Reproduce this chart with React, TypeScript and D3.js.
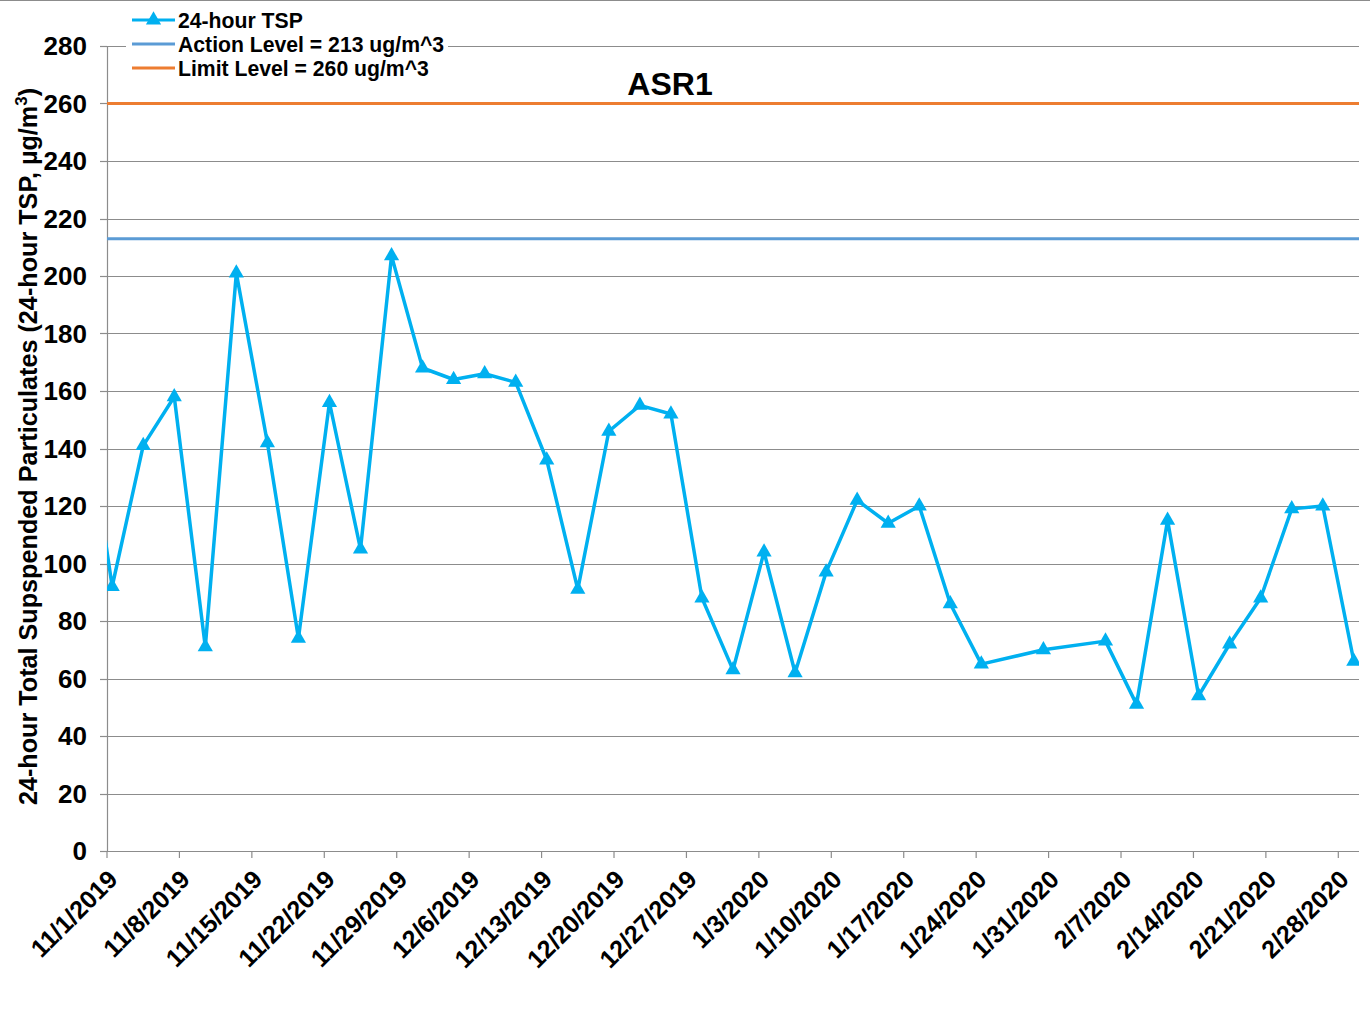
import React from 'react'
import * as d3 from "d3";

// 24-hour TSP readings, every 3 days (first one sits left of the axis and is clipped)
const sampleDates = [
  "10/29/2019",
  "11/1/2019", "11/4/2019", "11/7/2019", "11/10/2019", "11/13/2019", "11/16/2019", "11/19/2019",
  "11/22/2019", "11/25/2019", "11/28/2019", "12/1/2019", "12/4/2019", "12/7/2019", "12/10/2019",
  "12/13/2019", "12/16/2019", "12/19/2019", "12/22/2019", "12/25/2019", "12/28/2019", "12/31/2019",
  "1/3/2020", "1/6/2020", "1/9/2020", "1/12/2020", "1/15/2020", "1/18/2020", "1/21/2020",
  "1/24/2020", "1/30/2020", "2/5/2020", "2/8/2020", "2/11/2020", "2/14/2020", "2/17/2020",
  "2/20/2020", "2/23/2020", "2/26/2020", "2/29/2020",
];
const tspValues = [
  165,
  92, 141, 158, 71, 201, 142, 74,
  156, 105, 207, 168, 164, 166, 163,
  136, 91, 146, 155, 152, 88, 63,
  104, 62, 97, 122, 114, 120, 86,
  65, 70, 73, 51, 115, 54, 72,
  88, 119, 120, 66,
];
const actionLevel = 213;
const limitLevel = 260;
const yTicks = [0, 20, 40, 60, 80, 100, 120, 140, 160, 180, 200, 220, 240, 260, 280];
const axisStart = "11/1/2019";
const axisEnd = "3/1/2020";
const legendLabels = ["24-hour TSP", "Action Level = 213 ug/m^3", "Limit Level = 260 ug/m^3"];

const W = 1370, H = 1013;
const marginLeft = 107, marginRight = 11, marginTop = 46, marginBottom = 162;

const parse = d3.timeParse("%m/%d/%Y");
const fmt = d3.timeFormat("%-m/%-d/%Y");
const font = "'Liberation Sans', Arial, sans-serif";

export default function App() {
  const x = d3.scaleTime()
    .domain([parse(axisStart)!, parse(axisEnd)!])
    .range([marginLeft, W - marginRight]);
  const y = d3.scaleLinear().domain([0, 280]).range([H - marginBottom, marginTop]);

  // Excel date axis: points sit in the middle of their day
  const data = sampleDates.map((d, i) => ({ date: d3.timeHour.offset(parse(d)!, 12), value: tspValues[i] }));
  const xTicks = d3.timeFriday.range(parse(axisStart)!, parse(axisEnd)!);

  const line = d3.line<{ date: Date; value: number }>().x(d => x(d.date)).y(d => y(d.value));
  const tri = d3.symbol(d3.symbolTriangle, 100)();

  const x0 = marginLeft, x1 = W - marginRight, y0 = H - marginBottom;
  const lineColor = "#00B0F0", actionColor = "#5B9BD5", limitColor = "#ED7D31", grid = "#8c8c8c";

  return (
    <svg width={W} height={H} style={{ position: "absolute", left: 0, top: 0, background: "#fff" }} fontFamily={font}>
      <defs>
        <clipPath id="plot"><rect x={x0} y={0} width={x1 - x0} height={H} /></clipPath>
      </defs>
      <line x1={0} x2={W} y1={0.5} y2={0.5} stroke={grid} />

      {/* gridlines + y ticks */}
      {yTicks.map(t => (
        <g key={t}>
          {t > 0 && <line x1={x0} x2={x1} y1={Math.round(y(t)) + 0.5} y2={Math.round(y(t)) + 0.5} stroke={grid} strokeWidth={1.2} />}
          <line x1={x0 - 7} x2={x0} y1={Math.round(y(t)) + 0.5} y2={Math.round(y(t)) + 0.5} stroke={grid} strokeWidth={1.2} />
          <text x={87} y={y(t)} dy="0.36em" textAnchor="end" fontSize={26} fontWeight="bold">{t}</text>
        </g>
      ))}
      <line x1={x0 + 0.5} x2={x0 + 0.5} y1={y(280)} y2={y0} stroke={grid} strokeWidth={1.2} />
      <line x1={x0 - 7} x2={x1} y1={Math.round(y0) + 0.5} y2={Math.round(y0) + 0.5} stroke={grid} strokeWidth={1.2} />

      {/* x ticks */}
      {xTicks.map(t => (
        <g key={+t}>
          <line x1={x(t)} x2={x(t)} y1={y0} y2={y0 + 7} stroke={grid} strokeWidth={1.2} />
          <text transform={`translate(${x(t) + 12},${y0 + 30}) rotate(-45)`} textAnchor="end" fontSize={25} fontWeight="bold">{fmt(t)}</text>
        </g>
      ))}

      {/* reference lines */}
      <line x1={x0} x2={x1} y1={y(actionLevel)} y2={y(actionLevel)} stroke={actionColor} strokeWidth={3} />
      <line x1={x0} x2={x1} y1={y(limitLevel)} y2={y(limitLevel)} stroke={limitColor} strokeWidth={3} />

      {/* series */}
      <g clipPath="url(#plot)">
        <path d={line(data)!} fill="none" stroke={lineColor} strokeWidth={3.5} strokeLinejoin="round" />
        {data.map((d, i) => (
          <path key={i} d={tri} transform={`translate(${x(d.date)},${y(d.value)})`} fill={lineColor} />
        ))}
      </g>

      {/* title */}
      <text x={670} y={95} textAnchor="middle" fontSize={32} fontWeight="bold">ASR1</text>

      {/* y axis title */}
      <text transform={`translate(37,${(85 + 808) / 2}) rotate(-90)`} textAnchor="middle" fontSize={25.2} fontWeight="bold">
        24-hour Total Supspended Particulates (24-hour TSP, µg/m<tspan dy="-10" fontSize={17}>3</tspan><tspan dy="10">)</tspan>
      </text>

      {/* legend */}
      <rect x={126} y={8} width={322} height={72} fill="#fff" />
      {legendLabels.map((l, i) => {
        const ly = 20 + i * 24;
        const c = [lineColor, actionColor, limitColor][i];
        return (
          <g key={l}>
            <line x1={132} x2={175} y1={ly} y2={ly} stroke={c} strokeWidth={3} />
            {i === 0 && <path d={tri} transform={`translate(153.5,${ly})`} fill={c} />}
            <text x={178} y={ly} dy="0.36em" fontSize={21.2} fontWeight="bold">{l}</text>
          </g>
        );
      })}
    </svg>
  )
}
